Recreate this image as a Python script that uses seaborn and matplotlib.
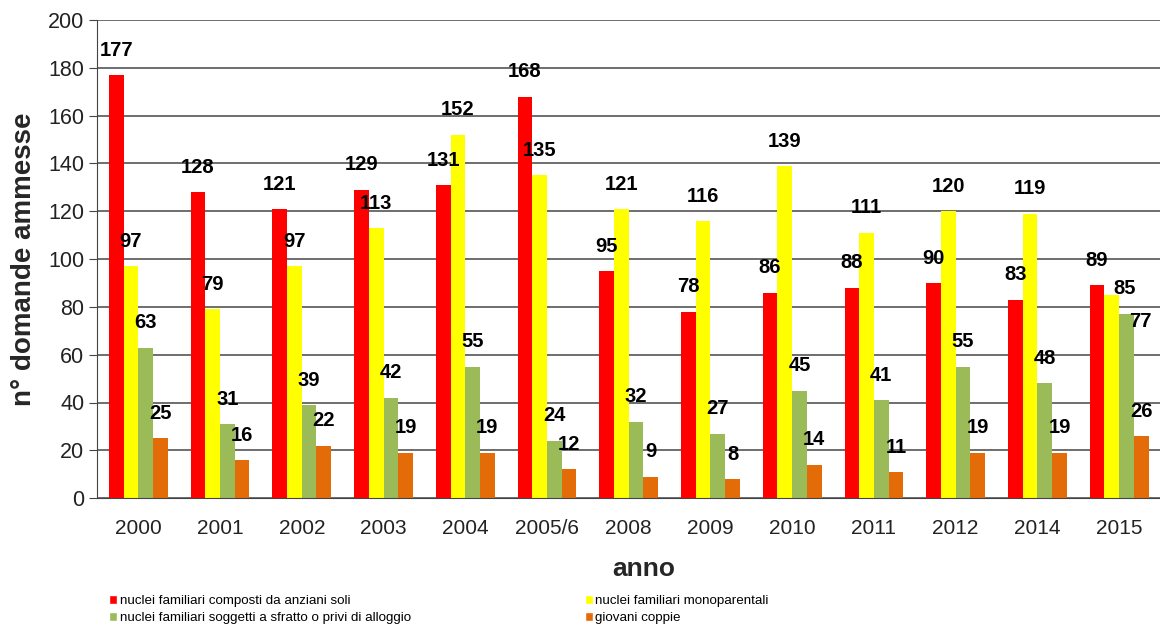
import matplotlib
matplotlib.use("Agg")
import matplotlib.pyplot as plt
from matplotlib.patches import Patch
import numpy as np
import pandas as pd
import seaborn as sns

# data
anni = ["2000", "2001", "2002", "2003", "2004", "2005/6", "2008",
        "2009", "2010", "2011", "2012", "2014", "2015"]
anziani = [177, 128, 121, 129, 131, 168, 95, 78, 86, 88, 90, 83, 89]
monoparentali = [97, 79, 97, 113, 152, 135, 121, 116, 139, 111, 120, 119, 85]
sfratto = [63, 31, 39, 42, 55, 24, 32, 27, 45, 41, 55, 48, 77]
giovani = [25, 16, 22, 19, 19, 12, 9, 8, 14, 11, 19, 19, 26]

serie = ["nuclei familiari composti da anziani soli",
         "nuclei familiari monoparentali",
         "nuclei familiari soggetti a sfratto o privi di alloggio",
         "giovani coppie"]
colori = ["#FF0000", "#FFFF00", "#9BBB59", "#E36C09"]

df = pd.DataFrame({
    "anno": anni * 4,
    "valore": anziani + monoparentali + sfratto + giovani,
    "serie": [s for s in serie for _ in anni],
})

sns.set_style("white")
plt.rcParams["font.family"] = ["Liberation Sans", "DejaVu Sans"]
plt.rcParams["text.color"] = "black"

fig = plt.figure(figsize=(11.6, 6.25), dpi=100)
ax = fig.add_axes([0.084, 0.203, 0.916, 0.765])

sns.barplot(data=df, x="anno", y="valore", hue="serie", hue_order=serie,
            palette=colori, width=0.72, saturation=1, linewidth=0,
            ax=ax, legend=False)

labels = []
for c in ax.containers:
    labels.append(ax.bar_label(c, padding=11, fontsize=14.5,
                               fontweight="bold", color="black"))

# in 2015 the labels are squeezed to the right, as in the original
labels[1][-1].xyann = (9, -2)
labels[2][-1].xyann = (10, -12)

ax.set_ylim(0, 200)
ax.set_yticks(range(0, 201, 20))
ax.set_xlim(-0.5, len(anni) - 0.5)
ax.yaxis.grid(True, color="#555555", linewidth=1.2)
ax.set_axisbelow(True)
for s in ["top", "right"]:
    ax.spines[s].set_visible(False)
ax.spines["left"].set_color("#444444")
ax.spines["bottom"].set_color("#444444")

# ticks between the categories
ax.set_xticks(np.arange(-0.5, len(anni), 1), minor=True)
ax.tick_params(axis="x", which="major", length=0, labelsize=15, pad=15,
               labelcolor="#222222")
ax.tick_params(axis="x", which="minor", length=6, color="#444444")
ax.tick_params(axis="y", length=6, color="#444444", labelsize=15.5, left=True,
               labelcolor="#222222")

ax.set_xlabel("anno", fontsize=19, fontweight="bold", labelpad=14, x=0.514)
ax.set_ylabel("n° domande ammesse", fontsize=20, fontweight="bold", labelpad=8)

ordine = [0, 2, 1, 3]
handles = [Patch(facecolor=colori[i], label=serie[i]) for i in ordine]
fig.legend(handles=handles, loc="lower left", bbox_to_anchor=(0.084, -0.018),
           ncol=2, frameon=False, fontsize=9.6, handlelength=0.6,
           handleheight=0.7, handletextpad=0.2, labelspacing=0.35,
           columnspacing=13)

fig.savefig("out.png", dpi=100)
